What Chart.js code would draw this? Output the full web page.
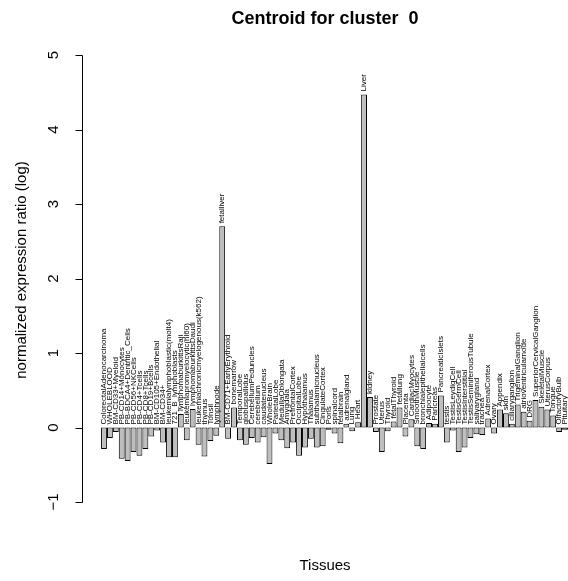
<!DOCTYPE html>
<html>
<head>
<meta charset="utf-8">
<script src="https://cdn.jsdelivr.net/npm/chart.js@4/dist/chart.umd.min.js"></script>
<style>
html, body { margin: 0; padding: 0; background: #fff; overflow: hidden; }
</style>
</head>
<body>
<canvas id="centroidchart" width="568" height="581"></canvas>
<script>
var tissues = [
    'ColorectalAdenocarcinoma', 'WHOLEBLOOD', 'BM-CD33+Myeloid', 'PB-CD14+Monocytes',
    'PB-BDCA4+Dentritic_Cells', 'PB-CD56+NKCells', 'PB-CD4+Tcells', 'PB-CD8+Tcells',
    'PB-CD19+Bcells', 'BM-CD105+Endothelial', 'BM-CD34+', 'leukemialymphoblastic(molt4)',
    '721_B_lymphoblasts', 'lymphomaburkittsRaji', 'leukemiapromyelocytic(hl60)',
    'lymphomaburkittsDaudi', 'leukemiachronicmyelogenous(k562)', 'thymus', 'Tonsil',
    'lymphnode', 'fetalliver', 'BM-CD71+EarlyErythroid', 'bonemarrow', 'TemporalLobe',
    'globuspallidus', 'CerebellumPeduncles', 'cerebellum', 'caudatenucleus', 'WholeBrain',
    'ParietalLobe', 'MedullaOblongata', 'Amygdala', 'PrefrontalCortex', 'OccipitalLobe',
    'Hypothalamus', 'Thalamus', 'subthalamicnucleus', 'CingulateCortex', 'Pons',
    'spinalcord', 'fetalbrain', 'adrenalgland', 'Lung', 'Heart', 'Liver', 'kidney',
    'Prostate', 'Uterus', 'Thyroid', 'fetalThyroid', 'fetallung', 'Placenta',
    'CardiacMyocytes', 'SmoothMuscle', 'bronchialepithelialcells', 'Adipocyte', 'Pancreas',
    'PancreaticIslets', 'testis', 'TestisLeydigCell', 'TestisGermCell', 'TestisInterstitial',
    'TestisSeminiferousTubule', 'salivarygland', 'trachea', 'AdrenalCortex', 'Ovary',
    'Appendix', 'skin', 'ciliaryganglion', 'TrigeminalGanglion', 'atrioventricularnode',
    'DRG', 'SuperiorCervicalGanglion', 'SkeletalMuscle', 'UterusCorpus', 'Tongue',
    'OlfactoryBulb', 'Pituitary'
];
var centroid = [
    -0.29, -0.14, -0.06, -0.42, -0.45, -0.33, -0.38, -0.29, -0.12, -0.04,
    -0.20, -0.40, -0.40, 0.18, -0.17, 0.25, -0.23, -0.39, -0.18, -0.11,
    2.70, -0.15, 0.27, -0.17, -0.23, -0.14, -0.20, -0.13, -0.49, -0.08,
    -0.17, -0.28, -0.20, -0.38, -0.27, -0.15, -0.27, -0.25, -0.03, -0.08,
    -0.21, 0.05, -0.05, 0.07, 4.47, 0.41, -0.06, -0.33, -0.05, 0.08,
    0.27, -0.12, 0.11, -0.25, -0.29, 0.06, 0.05, 0.43, -0.20, -0.04,
    -0.33, -0.27, -0.14, -0.09, -0.10, 0.12, -0.08, 0.24, 0.19, 0.05,
    0.31, 0.21, 0.09, 0.37, 0.28, 0.24, 0.16, -0.06, -0.03
];
var yTicks = [-1, 0, 1, 2, 3, 4, 5];

var FONT = '"Liberation Sans", Arial, Helvetica, sans-serif';

// R style text and axis: title, axis labels, ticks and bar names
var rText = {
    id: 'rText',
    afterDraw: function(chart) {
        var ctx = chart.ctx;
        var xs = chart.scales.x, ys = chart.scales.y;
        var area = chart.chartArea;
        var cx = (area.left + area.right) / 2;
        ctx.save();
        ctx.fillStyle = '#000';
        ctx.strokeStyle = '#000';
        ctx.lineWidth = 1;

        // y axis line and tick marks
        var ax = Math.round(area.left) + 0.5;
        ctx.beginPath();
        ctx.moveTo(ax, Math.round(ys.getPixelForValue(5)) + 0.5);
        ctx.lineTo(ax, Math.round(ys.getPixelForValue(-1)) + 0.5);
        yTicks.forEach(function(t) {
            var py = Math.round(ys.getPixelForValue(t)) + 0.5;
            ctx.moveTo(ax - 7, py);
            ctx.lineTo(ax, py);
        });
        ctx.stroke();

        ctx.font = 'bold 18px ' + FONT;
        ctx.textAlign = 'center';
        ctx.textBaseline = 'middle';
        ctx.fillText('Centroid for cluster  0', cx, 19);

        ctx.font = '15px ' + FONT;
        ctx.fillText('Tissues', cx, 566);

        ctx.save();
        ctx.translate(22, 270);
        ctx.rotate(-Math.PI / 2);
        ctx.fillText('normalized expression ratio (log)', 0, 0);
        ctx.restore();

        yTicks.forEach(function(t) {
            ctx.save();
            ctx.translate(54, ys.getPixelForValue(t));
            ctx.rotate(-Math.PI / 2);
            ctx.fillText(t < 0 ? '\u2212' + Math.abs(t) : String(t), 0, 0);
            ctx.restore();
        });

        ctx.font = '8px ' + FONT;
        ctx.textAlign = 'left';
        tissues.forEach(function(name, i) {
            var x = xs.getPixelForValue(i + 1);
            var y = ys.getPixelForValue(Math.max(0, centroid[i])) - 3;
            ctx.save();
            ctx.translate(x, y);
            ctx.rotate(-Math.PI / 2);
            ctx.fillText(name, 0, 0);
            ctx.restore();
        });
        ctx.restore();
    }
};

var chart1 = document.getElementById('centroidchart');
var myChart1 = new Chart(chart1, {
    type: 'bar',
    data: {
        datasets: [{
            label: 'centroid',
            data: centroid.map(function(v, i) { return { x: i + 1, y: v }; }),
            backgroundColor: '#bebebe',
            borderColor: '#000',
            borderWidth: 1,
            borderSkipped: false,
            barPercentage: 0.99,
            categoryPercentage: 1,
            clip: false
        }]
    },
    options: {
        responsive: false,
        animation: false,
        devicePixelRatio: 1,
        layout: { padding: { left: 0, right: 0, top: 55, bottom: 79 } },
        plugins: { legend: { display: false }, tooltip: { enabled: false } },
        scales: {
            x: {
                type: 'linear',
                display: false,
                offset: false,
                min: -2.72,
                max: 79.5
            },
            y: {
                min: -1,
                max: 5,
                afterBuildTicks: function(scale) {
                    scale.ticks = yTicks.map(function(v) { return { value: v }; });
                },
                afterFit: function(scale) { scale.width = 82; },
                ticks: { display: false },
                grid: { display: false },
                border: { display: false }
            }
        }
    },
    plugins: [rText]
});
</script>
</body>
</html>
